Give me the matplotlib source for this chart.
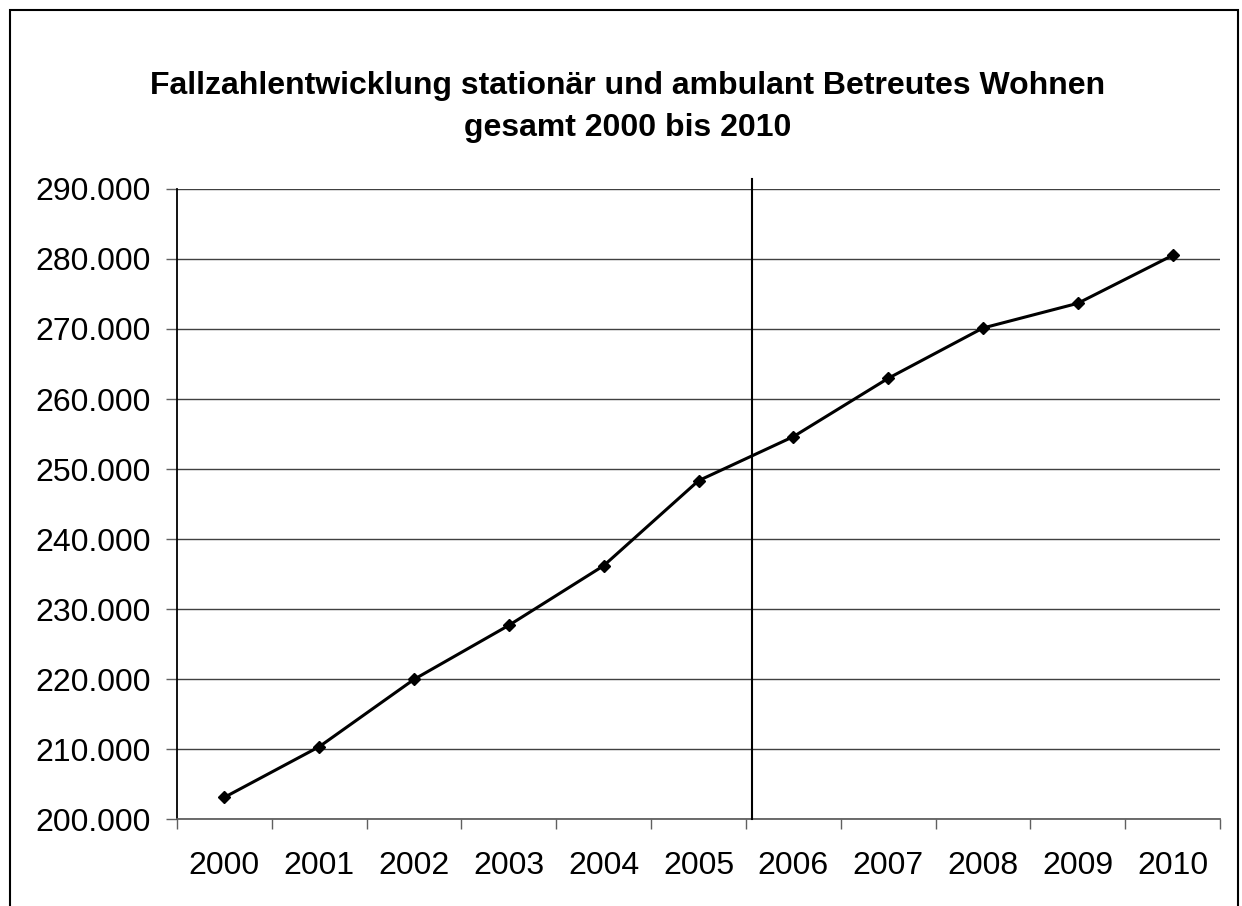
import matplotlib
matplotlib.use("Agg")
import matplotlib.pyplot as plt
from matplotlib.patches import Rectangle
from matplotlib.ticker import FuncFormatter, FixedLocator

plt.rcParams['font.family'] = ['Liberation Sans', 'DejaVu Sans']

# Data
years = ["2000", "2001", "2002", "2003", "2004", "2005",
         "2006", "2007", "2008", "2009", "2010"]
faelle = [203100, 210330, 219950, 227670, 236190, 248330,
          254620, 262950, 270140, 273670, 280520]
y_ticks = [200000, 210000, 220000, 230000, 240000, 250000,
           260000, 270000, 280000, 290000]

# Separator line between 2005 and 2006 (drawn line, slightly off the tick)
sep_x = 5.566
sep_y = [200000, 291430]

fig = plt.figure(figsize=(12.42, 9.06), dpi=100)
ax = fig.add_axes([0.1425, 0.0960, 0.8398, 0.6954])

pos = list(range(len(years)))
ax.plot(pos, faelle, color="black", lw=2.2, marker="D", markersize=6.5, zorder=3)
ax.plot([sep_x, sep_x], sep_y, color="black", lw=1.5, clip_on=False, zorder=4)

ax.set_xlim(-0.5, len(years) - 0.5)
ax.set_ylim(200000, 290000)

# x axis: ticks at category boundaries, labels at centers
ax.xaxis.set_major_locator(FixedLocator([i - 0.5 for i in range(len(years) + 1)]))
ax.xaxis.set_minor_locator(FixedLocator(pos))
ax.set_xticklabels([""] * (len(years) + 1))
ax.set_xticklabels(years, minor=True)
ax.tick_params(axis="x", which="major", direction="out", length=7, width=1, color="#606060")
ax.tick_params(axis="x", which="minor", length=0, pad=23, labelsize=23)

ax.set_yticks(y_ticks)
ax.yaxis.set_major_formatter(FuncFormatter(lambda v, p: f"{int(v):,}".replace(",", ".")))
ax.tick_params(axis="y", direction="out", length=8, width=1, color="#606060", pad=11, labelsize=23)

ax.grid(axis="y", color="#404040", lw=1)
ax.set_axisbelow(True)
for s in ["top", "right"]:
    ax.spines[s].set_visible(False)
ax.spines["left"].set_color("black")
ax.spines["left"].set_linewidth(1.3)
ax.spines["bottom"].set_color("#606060")
ax.spines["bottom"].set_linewidth(1.3)

fig.text(0.505, 1 - 107 / 906,
         "Fallzahlentwicklung stationär und ambulant Betreutes Wohnen\ngesamt 2000 bis 2010",
         ha="center", va="center", fontsize=23, fontweight="bold", linespacing=1.55)

# outer chart border
fig.patches.append(Rectangle((10 / 1242, -0.05), 1228 / 1242, 1 - 10 / 906 + 0.05,
                             transform=fig.transFigure, fill=False, ec="black", lw=1.5))

plt.savefig("out.png", dpi=100)
